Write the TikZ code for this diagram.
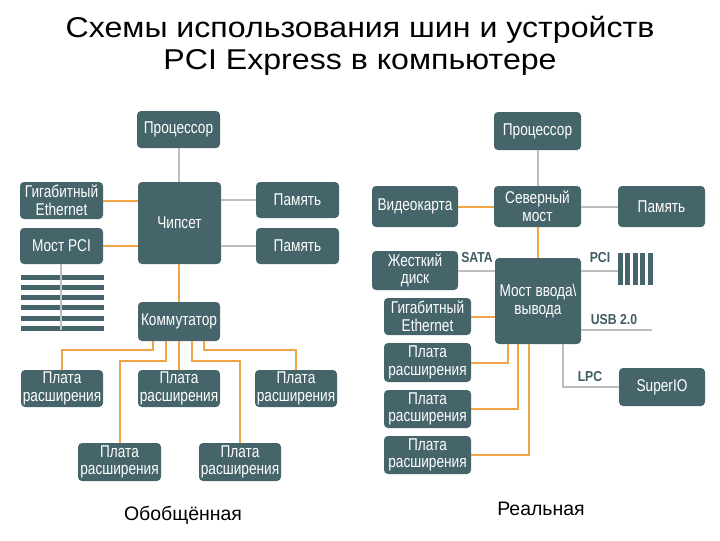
\documentclass[tikz,border=0pt]{standalone}
\usepackage{fontspec}
\setmainfont{Liberation Sans}
\newfontfamily\boxfont[FakeStretch=0.8]{Liberation Sans}
\newfontfamily\lblfont[FakeStretch=0.85]{Liberation Sans}
\newfontfamily\titlefont[FakeStretch=1.12]{Liberation Sans}
\definecolor{boxc}{RGB}{70,101,107}
\definecolor{orangec}{RGB}{242,163,72}
\definecolor{grayc}{RGB}{190,190,190}
\definecolor{lblc}{RGB}{62,92,98}
\tikzset{
  box/.style={fill=boxc, rounded corners=3pt, inner sep=0pt, text=white, align=center,
    font=\boxfont\fontsize{12.8}{13.2}\selectfont},
  obus/.style={draw=orangec, line width=1.5pt},
  gbus/.style={draw=grayc, line width=1.5pt},
  lbl/.style={text=lblc, font=\lblfont\bfseries\fontsize{10.8}{12}\selectfont, inner sep=0pt},
  bar/.style={fill=boxc},
}
\newcommand{\bx}[6]{\node[box, minimum width={(#4-#2)*0.75pt}, minimum height={(#5-#3)*0.75pt}] (#1) at ({(#2+#4)/2},{(#3+#5)/2}) {#6};}
\begin{document}
\begin{tikzpicture}[x=0.75pt,y=-0.75pt]
\useasboundingbox (0,0) rectangle (720,540);
% title
\node[anchor=base, font=\titlefont\fontsize{21.5}{26}\selectfont, inner sep=0pt] (t1) at (360,37) {Схемы использования шин и устройств};
\node[anchor=base, font=\titlefont\fontsize{21.5}{26}\selectfont, inner sep=0pt] (t2) at (360,69) {PCI Express в компьютере};
% ===== left =====
\bx{lp}{137}{111}{220}{148}{Процессор}
\bx{ch}{138}{182}{221}{264}{Чипсет}
\bx{eth}{20}{182}{103}{219}{Гигабитный\\Ethernet}
\bx{pci}{20}{228}{103}{264}{Мост PCI}
\bx{mem1}{256}{182}{339}{218}{Память}
\bx{mem2}{256}{228}{339}{264}{Память}
\bx{sw}{138}{302}{220}{341}{Коммутатор}
\bx{p1}{21}{370}{103}{407}{Плата\\расширения}
\bx{p2}{138}{370}{220}{407}{Плата\\расширения}
\bx{p3}{255}{370}{337}{407}{Плата\\расширения}
\bx{p4}{78}{443}{161}{481}{Плата\\расширения}
\bx{p5}{199}{443}{281}{481}{Плата\\расширения}
\foreach \yy in {275,285,295,305,316,326} \fill[bar] (21,\yy) rectangle (104,\yy+5);
\coordinate (pcibus) at (61,330);
\draw[gbus] (lp.south) -- (lp.south |- ch.north);
\draw[obus] (eth) -- (eth -| ch.west);
\draw[obus] (pci) -- (pci -| ch.west);
\draw[gbus] (mem1) -- (mem1 -| ch.east);
\draw[gbus] (mem2) -- (mem2 -| ch.east);
\draw[gbus] (pci.south -| pcibus) -- (pcibus);
\draw[obus] (ch.south -| sw.north) -- (sw.north);
\draw[obus] (sw.south -| 153,0) -- (153,350) -| (p1.north);
\draw[obus] (sw.south -| 166,0) -- (166,361) -| (p4.north);
\draw[obus] (sw.south -| p2.north) -- (p2.north);
\draw[obus] (sw.south -| 192,0) -- (192,361) -| (p5.north);
\draw[obus] (sw.south -| 204,0) -- (204,350) -| (p3.north);
% ===== right =====
\bx{rp}{494}{112}{581}{150}{Процессор}
\bx{nb}{494}{186}{581}{227}{Северный\\мост}
\bx{vid}{372}{186}{458}{227}{Видеокарта}
\bx{rmem}{618}{186}{705}{227}{Память}
\bx{hdd}{372}{251}{458}{290}{Жесткий\\диск}
\bx{io}{495}{258}{581}{344}{Мост ввода\textbackslash\\вывода}
\bx{reth}{384}{298}{471}{335}{Гигабитный\\Ethernet}
\bx{rp1}{384}{343}{471}{382}{Плата\\расширения}
\bx{rp2}{384}{390}{471}{428}{Плата\\расширения}
\bx{rp3}{384}{436}{471}{474}{Плата\\расширения}
\bx{sio}{619}{368}{705}{406}{SuperIO}
\foreach \i in {0,...,4} \fill[bar] ({618+7.4*\i},253) rectangle ({623+7.4*\i},285);
\coordinate (pcibars) at (618,271);
\coordinate (usbend) at (652,330);
\draw[gbus] (rp.south -| nb.north) -- (nb.north);
\draw[obus] (vid) -- (vid -| nb.west);
\draw[gbus] (rmem) -- (rmem -| nb.east);
\draw[obus] (nb.south) -- (nb.south |- io.north);
\draw[gbus] (hdd) -- (hdd -| io.west);
\draw[gbus] (io.east |- pcibars) -- (pcibars);
\draw[gbus] (io.east |- usbend) -- (usbend);
\draw[gbus] (io.south -| 563,0) |- (sio.west);
\draw[obus] (reth) -- (reth -| io.west);
\draw[obus] (io.south -| 508,0) |- (rp1.east);
\draw[obus] (io.south -| 518,0) |- (rp2.east);
\draw[obus] (io.south -| 529,0) |- (rp3.east);
\node[lbl] (sata) at (477,258) {SATA};
\node[lbl] (pcil) at (600,258) {PCI};
\node[lbl] (usb) at (614,320) {USB 2.0};
\node[lbl] (lpc) at (590,377) {LPC};
% bottom labels
\node[anchor=base, font=\fontsize{14.6}{16}\selectfont, inner sep=0pt] (gen) at (183,520) {Обобщённая};
\node[anchor=base, font=\fontsize{14.6}{16}\selectfont, inner sep=0pt] (real) at (541,515) {Реальная};
\end{tikzpicture}
\end{document}
